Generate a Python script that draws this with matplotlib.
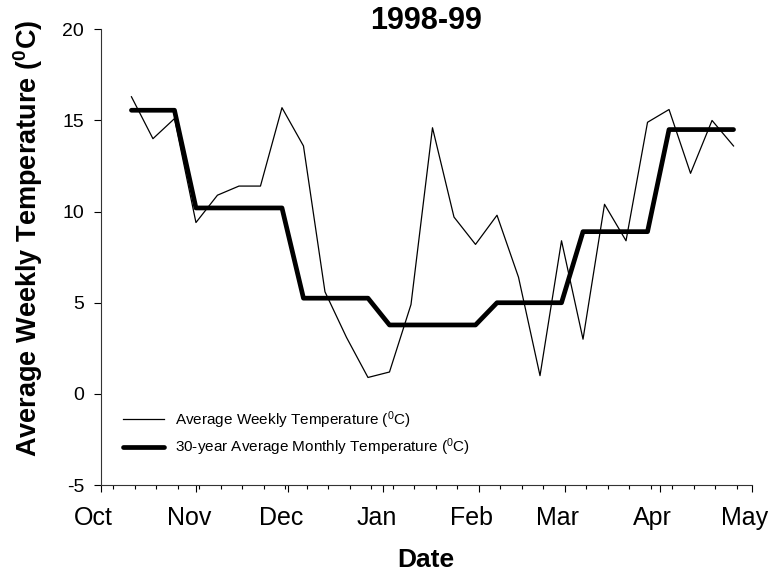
import numpy as np
import pandas as pd
from matplotlib import pyplot as plt
import matplotlib.dates as mdates
from matplotlib.transforms import ScaledTranslation

plt.rcParams['font.family'] = ['Liberation Sans', 'DejaVu Sans']
plt.rcParams['mathtext.default'] = 'regular'
plt.rcParams['axes.unicode_minus'] = False

# weekly observations, 1998-99 season
weekDates = pd.date_range('1998-10-11', periods=29, freq='7D')
weeklyTemp = [16.3, 14.0, 15.1, 9.4, 10.9, 11.4, 11.4, 15.7, 13.6, 5.6,
              3.1, 0.9, 1.2, 4.9, 14.6, 9.7, 8.2, 9.8, 6.4, 1.0,
              8.4, 3.0, 10.4, 8.4, 14.9, 15.6, 12.1, 15.0, 13.6]
# 30-year monthly normals, repeated for each week
monthlyTemp = [15.56] * 3 + [10.2] * 5 + [5.25] * 4 + [3.78] * 5 + \
              [5.0] * 4 + [8.9] * 4 + [14.5] * 4

title = '1998-99'
weeklyName = 'Average Weekly Temperature ($^{0}$C)'
monthlyName = '30-year Average Monthly Temperature ($^{0}$C)'

fig = plt.figure(figsize=(7.73, 5.84), dpi=100)
ax = fig.add_axes([0.1303, 0.1695, 0.8425, 0.7803])

ax.plot(weekDates, weeklyTemp, color='black', lw=0.9, label=weeklyName)
ax.plot(weekDates, monthlyTemp, color='black', lw=3.4,
        solid_capstyle='round', solid_joinstyle='round', label=monthlyName)

ax.set_xlim(pd.Timestamp('1998-10-01'), pd.Timestamp('1999-05-01'))
ax.set_ylim(-5, 20)
ax.set_yticks(np.arange(-5, 21, 5))

ax.xaxis.set_major_locator(mdates.MonthLocator())
ax.xaxis.set_major_formatter(mdates.DateFormatter('%b'))
ax.xaxis.set_minor_locator(mdates.WeekdayLocator(byweekday=mdates.MO))

for s in ['top', 'right']:
    ax.spines[s].set_visible(False)
for s in ['left', 'bottom']:
    ax.spines[s].set_linewidth(0.8)
    ax.spines[s].set_color('#333333')

ax.tick_params(axis='y', direction='out', length=5, width=0.8, labelsize=14, pad=7)
ax.tick_params(axis='x', which='major', direction='out', length=5, width=0.8,
               labelsize=18, pad=10)
ax.tick_params(axis='x', which='minor', direction='out', length=3, width=0.8)

# month names sit a little left of their ticks
shift = ScaledTranslation(-0.07, 0, fig.dpi_scale_trans)
for lbl in ax.get_xticklabels():
    lbl.set_transform(lbl.get_transform() + shift)

leg = ax.legend(loc='upper left', bbox_to_anchor=(0.034, 0.167), frameon=False,
                fontsize=11, handlelength=2.7, handletextpad=0.7,
                labelspacing=0.4, borderpad=0, borderaxespad=0)

fig.text(0.551, 0.964, title, ha='center', va='center', fontsize=22, fontweight='bold')
fig.text(0.551, 0.041, 'Date', ha='center', va='center', fontsize=19, fontweight='bold')
fig.text(0.036, 0.592, 'Average Weekly Temperature ($^{0}$C)', ha='center', va='center',
         rotation=90, fontsize=19.5, fontweight='bold')

fig.savefig('out.png', dpi=100)
